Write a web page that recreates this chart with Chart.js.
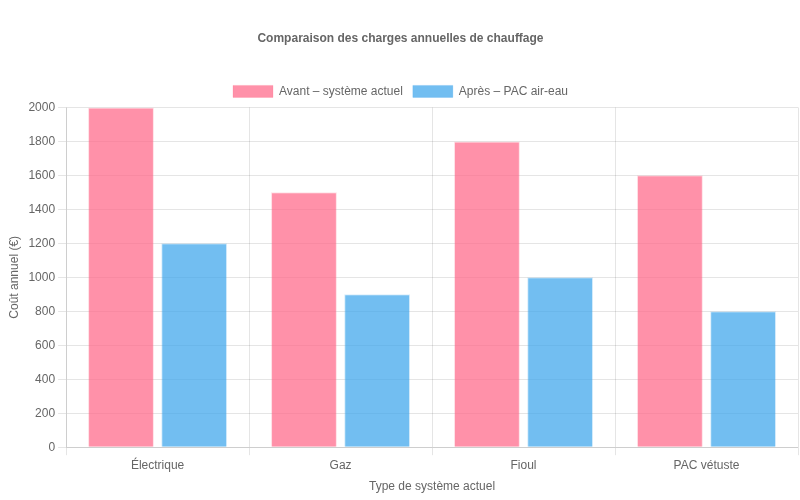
<!DOCTYPE html>
<html>
<head>
<meta charset="utf-8">
<script src="https://cdn.jsdelivr.net/npm/chart.js@4/dist/chart.umd.min.js"></script>
<style>
  html, body { margin: 0; padding: 0; background: #fff; }
  #wrap { width: 800px; height: 500px; }
</style>
</head>
<body>
<div id="wrap"><canvas id="chart"></canvas></div>
<script>
const categories = ['Électrique', 'Gaz', 'Fioul', 'PAC vétuste']
const avantValues = [2000, 1500, 1800, 1600]
const apresValues = [1200, 900, 1000, 800]

Chart.defaults.font.family = '"Liberation Sans", Arial, sans-serif'
Chart.defaults.color = '#666'

new Chart(document.getElementById('chart'), {
  type: 'bar',
  data: {
    labels: categories,
    datasets: [
      {
        label: 'Avant – système actuel',
        data: avantValues,
        backgroundColor: 'rgba(255, 99, 132, 0.7)',
        borderColor: 'rgba(255, 99, 132, 0.2)',
        borderWidth: 1,
      },
      {
        label: 'Après – PAC air-eau',
        data: apresValues,
        backgroundColor: 'rgba(54, 162, 235, 0.7)',
        borderColor: 'rgba(54, 162, 235, 0.2)',
        borderWidth: 1,
      },
    ],
  },
  options: {
    responsive: true,
    maintainAspectRatio: false,
    animation: false,
    layout: { padding: { bottom: 2, left: 3, right: 2 } },
    plugins: {
      title: {
        display: true,
        text: 'Comparaison des charges annuelles de chauffage',
        font: { size: 12, weight: 'bold' },
        padding: { top: 31, bottom: 30 },
      },
      legend: {
        position: 'top',
        labels: { font: { size: 12 } },
      },
    },
    scales: {
      x: {
        title: { display: true, text: 'Type de système actuel', font: { size: 12 } },
      },
      y: {
        beginAtZero: true,
        max: 2000,
        ticks: { stepSize: 200, callback: (v) => String(v) },
        title: { display: true, text: 'Coût annuel (€)', font: { size: 12 } },
      },
    },
  },
})
</script>
</body>
</html>
